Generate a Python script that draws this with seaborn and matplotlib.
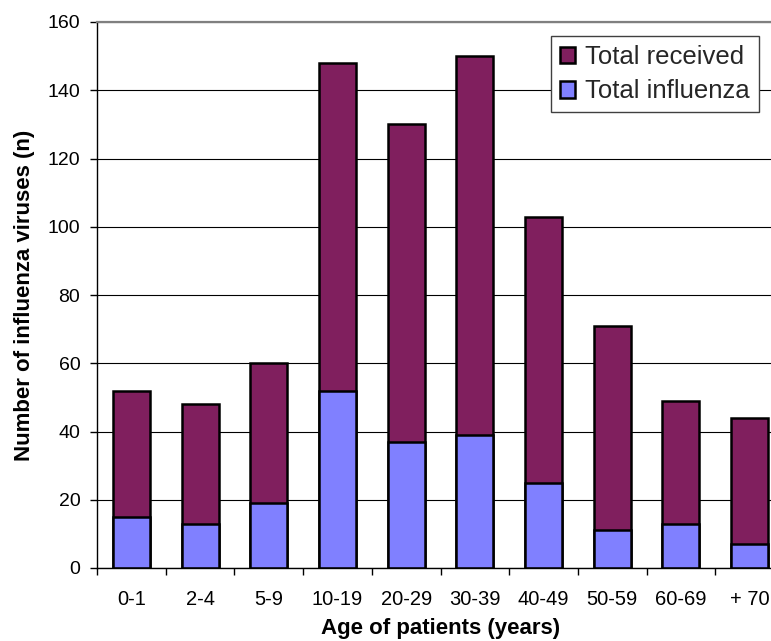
import matplotlib
matplotlib.use("Agg")
import matplotlib.pyplot as plt
from matplotlib.patches import Patch
import pandas as pd
import seaborn as sns

# Age groups and counts per group
age_groups = ["0-1", "2-4", "5-9", "10-19", "20-29", "30-39", "40-49", "50-59", "60-69", "+ 70"]
total_received = [52, 48, 60, 148, 130, 150, 103, 71, 49, 44]
total_influenza = [15, 13, 19, 52, 37, 39, 25, 11, 13, 7]

y_ticks = [0, 20, 40, 60, 80, 100, 120, 140, 160]

received_color = "#801F5E"
influenza_color = "#8080FF"

df = pd.DataFrame({
    "age": age_groups,
    "received": total_received,
    "influenza": total_influenza,
})

sns.set_theme(style="white")
plt.rcParams["font.family"] = ["Liberation Sans", "DejaVu Sans"]

fig = plt.figure(figsize=(7.71, 6.41), dpi=100)
ax = fig.add_axes([97 / 771, 73 / 641, 687 / 771, 546 / 641])

bar_kw = dict(width=0.54, edgecolor="black", linewidth=1.8, saturation=1, ax=ax)
sns.barplot(data=df, x="age", y="received", order=age_groups, color=received_color, **bar_kw)
sns.barplot(data=df, x="age", y="influenza", order=age_groups, color=influenza_color, **bar_kw)

ax.set_xlim(-0.5, len(age_groups) - 0.5)
ax.set_ylim(0, 160)
ax.set_yticks(y_ticks)
ax.set_axisbelow(True)
ax.yaxis.grid(True, color="black", linewidth=0.8)
ax.xaxis.grid(False)

# Spines: black left/bottom, grey top frame line
for side in ("left", "bottom"):
    ax.spines[side].set_color("black")
    ax.spines[side].set_linewidth(1.0)
ax.spines["top"].set_color("#808080")
ax.spines["top"].set_linewidth(1.6)
ax.spines["right"].set_visible(False)

# Tick marks between categories on the x axis
ax.set_xticks([i + 0.5 for i in range(-1, len(age_groups))], minor=True)
ax.tick_params(axis="x", which="minor", bottom=True, length=5, width=1, color="black", direction="out")
ax.tick_params(axis="x", which="major", bottom=False, length=0, pad=16, labelsize=14.5, labelcolor="black")
ax.tick_params(axis="y", which="major", left=True, length=5, width=1, color="black", direction="out",
               pad=7, labelsize=14, labelcolor="black")

ax.set_xlabel("Age of patients (years)", fontsize=16, fontweight="bold", color="black")
ax.set_ylabel("Number of influenza viruses (n)", fontsize=16, fontweight="bold", color="black")
ax.xaxis.label.set_verticalalignment("bottom")
ax.xaxis.set_label_coords(0.5, -0.1305)
ax.yaxis.set_label_coords(-0.09, 0.5)

handles = [
    Patch(facecolor=received_color, edgecolor="black", linewidth=1.8, label="Total received"),
    Patch(facecolor=influenza_color, edgecolor="black", linewidth=1.8, label="Total influenza"),
]
leg = ax.legend(handles=handles, loc="upper right", bbox_to_anchor=(0.9636, 0.974), borderaxespad=0,
                fontsize=18.5, frameon=True, fancybox=False, framealpha=1, edgecolor="#404040",
                handlelength=0.6, handleheight=0.6, handletextpad=0.4, labelspacing=0.4,
                borderpad=0.35)
leg.get_frame().set_linewidth(1.0)

fig.savefig("out.png", dpi=100)
